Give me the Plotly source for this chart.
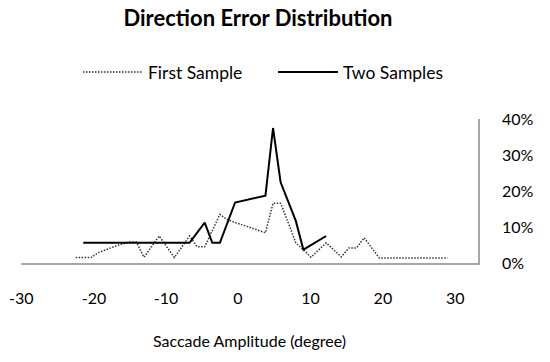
import plotly.graph_objects as go

# ---- data ----
first_x = [-23, -22, -21, -20, -19, -18, -17, -16, -15, -14, -12, -10, -8, -7, -6, -4, -3,
           2, 3, 4, 5, 6, 7, 8, 10, 12, 13, 14, 15, 17, 18, 19, 20, 21, 22, 23, 24, 25, 26]
first_y = [0.015, 0.015, 0.015, 0.029, 0.038, 0.045, 0.052, 0.058, 0.058, 0.016, 0.075, 0.015,
           0.075, 0.045, 0.045, 0.135, 0.120,
           0.084, 0.166, 0.166, 0.112, 0.056, 0.037, 0.016, 0.056, 0.017, 0.042, 0.042, 0.070,
           0.014, 0.014, 0.014, 0.014, 0.014, 0.014, 0.014, 0.014, 0.014, 0.014]

two_x = [-22, -20, -18, -16, -14, -12, -10, -8, -6, -5, -4, -2, 2, 3, 4, 6, 7, 10]
two_y = [0.056, 0.056, 0.056, 0.056, 0.056, 0.056, 0.056, 0.056, 0.112, 0.056, 0.056, 0.168,
         0.187, 0.375, 0.224, 0.117, 0.037, 0.075]

x_tick_text = ["-30", "-20", "-10", "0", "10", "20", "30"]
y_tick_vals = [0, 0.1, 0.2, 0.3, 0.4]
y_tick_text = ["0%", "10%", "20%", "30%", "40%"]

FONT = "Lato"

fig = go.Figure()
fig.add_trace(go.Scatter(x=first_x, y=first_y, mode="lines", name="First Sample",
                         line=dict(color="#333333", width=1.5, dash="1.5px,1.5px")))
fig.add_trace(go.Scatter(x=two_x, y=two_y, mode="lines", name="Two Samples",
                         line=dict(color="#000000", width=2)))

# tick labels sit slightly left of the gridline positions in the reference
label_pos = [-30.16, -20.57, -11.09, -1.64, 7.93, 17.47, 27.01]

fig.update_layout(
    width=550, height=362,
    margin=dict(l=21, r=71.5, t=119, b=98.7, autoexpand=False),
    paper_bgcolor="white", plot_bgcolor="white",
    font=dict(family=FONT, color="#000000", size=16),
    title=dict(text="<b>Direction Error Distribution</b>", x=258 / 550, xanchor="center",
               y=1 - 18 / 362, yanchor="middle", yref="container", xref="container",
               font=dict(family=FONT, size=22, color="#000000")),
    showlegend=True,
    legend=dict(orientation="h", x=78 / 550, xanchor="left", y=1 - 72 / 362, yanchor="middle",
                xref="container", yref="container",
                font=dict(family=FONT, size=17.5), itemwidth=60, tracegroupgap=0,
                entrywidth=120, bgcolor="rgba(0,0,0,0)"),
    xaxis=dict(range=[-30.2, 30], showgrid=False, zeroline=False, showline=True,
               linecolor="#a6a6a6", linewidth=2.2, automargin=False,
               tickmode="array", tickvals=label_pos, ticktext=x_tick_text,
               ticks="outside", ticklen=20, tickcolor="rgba(0,0,0,0)",
               tickfont=dict(family=FONT, size=16),
               title=dict(text="Saccade Amplitude (degree)", standoff=30,
                          font=dict(family=FONT, size=16))),
    yaxis=dict(range=[0, 0.4], side="right", showgrid=False, zeroline=False, showline=True,
               linecolor="#a6a6a6", linewidth=1.6, automargin=False,
               tickmode="array", tickvals=y_tick_vals, ticktext=y_tick_text,
               ticks="outside", ticklen=19, tickcolor="rgba(0,0,0,0)",
               tickfont=dict(family=FONT, size=16)),
)

fig.write_html("out.html", config={"displayModeBar": False},
               post_script="document.body.style.margin='0';")
